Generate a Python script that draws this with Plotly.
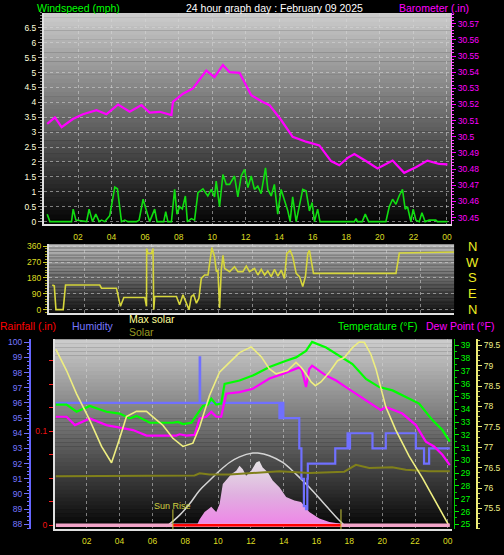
import plotly.graph_objects as go

W, H = 504, 555

# ---------------- data ----------------
title_text = "24 hour graph day : February 09 2025"
hour_ticks = [2, 4, 6, 8, 10, 12, 14, 16, 18, 20, 22, 24]
hour_labels = ["02", "04", "06", "08", "10", "12", "14", "16", "18", "20", "22", "00"]

# top panel: wind speed (mph)
wind_hours = [0.16, 0.32, 1.61, 1.71, 1.87, 2.51, 2.66, 2.86, 3.06, 3.26,
              3.40, 3.60, 3.89, 4.19, 4.35, 4.59, 4.79, 4.98, 5.48, 5.64,
              5.88, 6.08, 6.27, 6.57, 6.71, 7.11, 7.23, 7.36, 7.57, 7.76,
              7.90, 8.06, 8.22, 8.40, 8.52, 8.76, 8.95, 9.15, 9.45, 9.74,
              9.95, 10.14, 10.24, 10.44, 10.64, 10.84, 11.04, 11.33, 11.53, 11.73,
              11.93, 12.13, 12.33, 12.52, 12.72, 12.92, 13.18, 13.32, 13.52, 13.71,
              13.91, 14.11, 14.31, 14.51, 14.65, 14.80, 15.01, 15.20, 15.40, 15.60,
              15.80, 15.96, 16.10, 16.29, 16.43, 18.48, 18.58, 18.67, 18.95, 19.13,
              19.33, 20.36, 20.56, 20.76, 20.96, 21.15, 21.35, 21.51, 21.65, 21.85,
              21.99, 22.15, 22.35, 22.51, 22.70, 22.94, 23.34, 23.43, 24.03]
wind_mph = [0.25, 0, 0, 0.42, 0.05, 0, 0.42, 0, 0.25, 0,
            0.05, 0, 0.2, 1.16, 1.1, 0, 0.05, 0, 0, 0.05,
            0.75, 0.33, 0, 0.42, 0, 0, 0.33, 0, 0, 1.08,
            0.25, 0.5, 0.42, 0.86, 0, 0.1, 0.05, 0.97, 1.1, 0.86,
            1.08, 0.83, 1.36, 0.5, 1.58, 1.25, 1.25, 1.53, 0.83, 1.53,
            1.75, 1.14, 1.53, 1.08, 1.19, 0.94, 1.8, 1.08, 0.86, 1.25,
            0.25, 1.08, 0.75, 0.36, 0, 0.83, 0, 0.5, 1.08, 1.03,
            0.36, 0.64, 0, 0.42, 0, 0, 0.1, 0, 0, 0.25,
            0, 0, 0.5, 0.75, 0.58, 0.86, 1.08, 0.42, 0.5, 0,
            0.42, 0.05, 0, 0.3, 0, 0.05, 0.05, 0, 0]
wind_ticks = [0, 0.5, 1, 1.5, 2, 2.5, 3, 3.5, 4, 4.5, 5, 5.5, 6, 6.5]
wind_tick_labels = ["0", "0.5", "1", "1.5", "2", "2.5", "3", "3.5", "4", "4.5", "5", "5.5", "6", "6.5"]

# top panel: barometer (in)
baro_hours = [0.16, 0.62, 1.02, 1.69, 2.29, 3.10, 3.70, 4.39, 5.08, 5.78,
              6.27, 6.87, 7.57, 7.66, 8.26, 8.85, 9.65, 10.14, 10.64, 11.04,
              11.63, 12.33, 13.02, 13.42, 14.11, 14.80, 15.60, 16.39, 17.09, 17.58,
              18.08, 18.48, 19.17, 19.86, 20.76, 21.45, 22.15, 22.84, 23.54, 24.03]
baro_in = [30.508, 30.512, 30.506, 30.511, 30.514, 30.5165, 30.514, 30.520, 30.5155, 30.5196,
           30.515, 30.5155, 30.5135, 30.5216, 30.5267, 30.530, 30.541, 30.537, 30.5445, 30.540,
           30.5396, 30.5257, 30.5216, 30.5196, 30.5104, 30.500, 30.497, 30.4947, 30.485, 30.4824,
           30.487, 30.4894, 30.485, 30.4804, 30.4853, 30.4777, 30.4812, 30.4853, 30.4832, 30.4829]
baro_ticks = [30.45, 30.46, 30.47, 30.48, 30.49, 30.50, 30.51, 30.52, 30.53, 30.54, 30.55, 30.56, 30.57]
baro_tick_labels = ["30.45", "30.46", "30.47", "30.48", "30.49", "30.5", "30.51", "30.52",
                    "30.53", "30.54", "30.55", "30.56", "30.57"]

# middle panel: wind direction (degrees)
dir_hours = [0.08, 0.20, 0.30, 0.73, 0.87, 2.91, 3.01, 3.90, 4.14, 4.34,
             5.59, 5.69, 5.70, 5.78, 5.98, 6.08, 6.12, 6.18, 7.47, 7.66,
             7.86, 8.06, 8.22, 8.36, 8.50, 8.66, 8.81, 8.95, 9.15, 9.35,
             9.45, 9.58, 9.74, 9.85, 9.94, 10.04, 10.14, 10.24, 10.34, 10.64,
             10.93, 11.13, 11.43, 11.63, 11.82, 12.12, 12.32, 12.52, 12.72, 12.91,
             13.11, 13.31, 13.51, 13.71, 13.90, 14.04, 14.24, 14.40, 14.60, 14.80,
             14.99, 15.15, 15.29, 15.39, 15.49, 15.63, 20.54, 20.74, 24.0]
dir_deg = [140, 135, 0, 0, 140, 140, 122, 122, 19, 69,
           69, 19, 347, 319, 319, 347, 0, 75, 75, 28,
           84, 37, 0, 75, 84, 37, 65, 178, 197, 197,
           263, 353, 300, 216, 225, 9, 225, 309, 234, 216,
           244, 216, 216, 248, 216, 234, 197, 229, 197, 220,
           188, 229, 190, 225, 178, 319, 337, 300, 206, 188,
           131, 188, 319, 337, 281, 206, 206, 322, 328]
dir_ticks = [0, 90, 180, 270, 360]
compass_labels = ["N", "E", "S", "W", "N"]

# bottom panel
temp_hours = [0.12, 0.77, 1.38, 2.19, 3.20, 4.01, 4.62, 5.03, 5.84, 7.25,
              7.56, 7.86, 8.37, 8.77, 9.08, 9.38, 9.59, 9.89, 10.19, 10.40,
              11.31, 12.12, 13.13, 14.15, 14.75, 15.36, 15.73, 16.58, 17.59, 18.19,
              19.01, 19.82, 20.63, 21.64, 22.25, 23.06, 23.67, 24.12]
temp_f = [34.36, 34.36, 33.8, 34.26, 33.8, 33.66, 33.28, 33.48, 32.94, 32.94,
          33.0, 32.84, 32.94, 33.66, 34.26, 34.36, 34.82, 34.36, 34.44, 35.98,
          36.24, 36.63, 37.3, 37.79, 38.05, 38.56, 39.26, 38.82, 38.05, 37.53,
          36.37, 35.73, 35.47, 34.82, 34.44, 33.15, 32.37, 31.47]

dew_hours = [0.12, 0.77, 1.28, 2.19, 3.20, 4.21, 4.82, 5.64, 7.46, 7.66,
             8.07, 8.57, 8.88, 9.28, 9.59, 9.89, 10.19, 10.50, 11.31, 12.12,
             13.13, 13.94, 14.95, 15.12, 15.36, 15.56, 15.73, 16.58, 17.19, 17.79,
             18.40, 19.21, 19.92, 20.22, 21.23, 22.05, 22.66, 23.16, 23.67, 24.12]
dew_f = [33.41, 33.41, 32.76, 33.28, 32.76, 32.5, 32.37, 31.94, 31.94, 32.04,
         31.94, 31.99, 33.28, 33.41, 33.79, 33.41, 33.41, 35.21, 35.34, 35.6,
         36.4, 36.76, 37.27, 37.01, 35.73, 37.14, 37.4, 36.63, 36.24, 35.73,
         35.21, 34.57, 33.92, 34.18, 33.66, 32.76, 31.47, 31.09, 30.44, 29.62]

hum_hours = [0.12, 8.88, 8.91, 13.74, 13.80, 13.86, 13.92, 13.98, 14.95, 15.08,
             15.23, 15.36, 15.44, 15.47, 17.14, 17.89, 17.93, 17.97, 18.01, 18.04,
             19.41, 20.22, 22.05, 22.55, 22.86, 24.12]
hum_pct = [96, 99, 96, 95, 96, 95, 96, 95, 93, 91,
           89.2, 89.0, 91, 92, 93, 94, 93, 94, 93, 94,
           93, 94, 93, 92, 93, 93]

maxsol_hours = [0.12, 0.77, 1.38, 2.19, 2.90, 3.51, 3.91, 4.42, 5.03, 5.64,
                6.14, 6.64, 7.25, 7.86, 8.47, 8.88, 9.48, 10.09, 10.70, 11.31,
                12.02, 12.63, 13.13, 13.54, 14.24, 14.75, 15.06, 15.36, 15.67, 15.93,
                16.27, 16.78, 17.28, 17.69, 18.19, 18.60, 18.91, 19.31, 19.62, 20.22,
                20.83, 21.64, 22.45, 23.26, 24.07]
maxsol_val = [79.40, 78.88, 78.31, 77.66, 77.02, 76.62, 77.10, 77.75, 77.88, 77.88,
              77.71, 77.54, 77.22, 77.02, 77.10, 77.50, 78.27, 78.84, 79.08, 79.32,
              79.46, 79.22, 78.92, 78.80, 78.88, 79.08, 78.96, 78.80, 78.60, 78.51,
              78.60, 78.84, 79.12, 79.20, 79.44, 79.58, 79.57, 79.28, 78.92, 77.99,
              77.42, 76.78, 76.25, 75.65, 75.08]

olive_hours = [0.12, 5.84, 8.57, 8.88, 9.48, 10.70, 13.74, 15.56, 17.69, 18.40,
               19.21, 20.61, 21.44, 22.86, 24.12]
olive_val = [76.29, 76.30, 76.31, 76.36, 76.33, 76.33, 76.41, 76.37, 76.40, 76.57,
             76.49, 76.51, 76.45, 76.41, 76.41]

solar_hours = [0.12, 8.67, 8.88, 9.18, 9.59, 9.89, 10.09, 10.29, 10.80, 11.11,
               11.31, 11.51, 11.71, 12.02, 12.32, 12.52, 12.72, 13.03, 13.33, 13.74,
               14.15, 14.65, 15.06, 15.56, 16.17, 16.78, 17.39, 17.79, 24.12]
solar_wm2 = [0, 0, 20, 39, 53, 39, 60, 114, 140, 149,
             162, 153, 136, 149, 171, 175, 158, 145, 123, 105,
             79, 70, 66, 39, 22, 13, 9, 0, 0]

arc_hours = [6.85, 7.66, 8.27, 8.88, 9.48, 10.09, 10.70, 11.31, 12.12, 12.42,
             13.13, 13.94, 14.75, 15.56, 16.37, 17.19, 17.69]
arc_wm2 = [0, 31, 61, 97, 123, 149, 171, 186, 196, 196,
           189, 171, 140, 105, 66, 26, 4]

rain_hours = [0.12, 24.12]
rain_in = [0, 0]
sunrise_h = 7.25
sunset_h = 17.49

temp_ticks = list(range(25, 40))
hum_ticks = list(range(88, 101))
right_ticks = [75.5, 76, 76.5, 77, 77.5, 78, 78.5, 79, 79.5]
right_tick_labels = ["75.5", "76", "76.5", "77", "77.5", "78", "78.5", "79", "79.5"]
rain_ticks = [0, 0.025, 0.05, 0.075, 0.1, 0.125, 0.15, 0.175]
rain_tick_labels = ["0", "", "", "", "0.1", "", "", ""]

# ---------------- helpers ----------------
def fx(px):
    return px / W

def fy(py):
    return 1 - py / H

FONT = "Liberation Sans, Arial, sans-serif"
GRID = "rgba(215,215,215,0.55)"
EDGE = "#e0e0e0"

fig = go.Figure()

# top panel
fig.add_trace(go.Scatter(x=wind_hours, y=wind_mph, mode="lines", name="Windspeed",
                         line=dict(color="#11dd11", width=1.6), xaxis="x", yaxis="y"))
fig.add_trace(go.Scatter(x=baro_hours, y=baro_in, mode="lines", name="Barometer",
                         line=dict(color="#ff00ff", width=2.2), xaxis="x", yaxis="y2"))
# middle panel
fig.add_trace(go.Scatter(x=dir_hours, y=dir_deg, mode="lines", name="Direction",
                         line=dict(color="#d6d63c", width=1.6), xaxis="x2", yaxis="y3"))
# bottom panel (y4 = hidden solar base axis)
fig.add_trace(go.Scatter(x=solar_hours, y=solar_wm2, mode="lines", name="Solar radiation",
                         line=dict(width=0, color="rgba(0,0,0,0)"), fill="tozeroy",
                         fillgradient=dict(type="vertical", start=0, stop=180,
                                           colorscale=[[0, "#f080e8"], [0.5, "#e0b0e0"], [1, "#e4e4e4"]]),
                         xaxis="x3", yaxis="y4"))
fig.add_trace(go.Scatter(x=arc_hours, y=arc_wm2, mode="lines", name="Max solar curve",
                         line=dict(color="#d4d4d4", width=1.5, shape="spline"), xaxis="x3", yaxis="y4"))
fig.add_trace(go.Scatter(x=hum_hours, y=hum_pct, mode="lines", name="Humidity",
                         line=dict(color="#7070ff", width=2.2, shape="hv"), xaxis="x3", yaxis="y6"))
fig.add_trace(go.Scatter(x=olive_hours, y=olive_val, mode="lines", name="Solar",
                         line=dict(color="#80801a", width=2), xaxis="x3", yaxis="y8"))
fig.add_trace(go.Scatter(x=maxsol_hours, y=maxsol_val, mode="lines", name="Max solar",
                         line=dict(color="#eeee80", width=1.6), xaxis="x3", yaxis="y8"))
fig.add_trace(go.Scatter(x=dew_hours, y=dew_f, mode="lines", name="Dew Point",
                         line=dict(color="#ff00ff", width=2.2), xaxis="x3", yaxis="y7"))
fig.add_trace(go.Scatter(x=temp_hours, y=temp_f, mode="lines", name="Temperature",
                         line=dict(color="#00ff00", width=2.2), xaxis="x3", yaxis="y7"))
fig.add_trace(go.Scatter(x=rain_hours, y=rain_in, mode="lines", name="Rainfall",
                         line=dict(color="#f2a4c8", width=3.5), xaxis="x3", yaxis="y9"))
fig.add_trace(go.Scatter(x=[sunrise_h, sunset_h], y=[0, 0], mode="lines", name="Rainfall day",
                         line=dict(color="#ff0000", width=2.5), xaxis="x3", yaxis="y9"))

# ---------------- background gradients ----------------
shapes = []
def gradient(xref, yref, top, bottom, n=48):
    for i in range(n):
        t = (i + 0.5) / n
        g = int(round(top + (bottom - top) * t))
        shapes.append(dict(type="rect", xref=xref, yref=yref, x0=0, x1=1,
                           y0=max(0, 1 - (i + 1) / n - 0.002), y1=1 - i / n,
                           fillcolor=f"rgb({g},{g},{g})", line=dict(width=0), layer="below"))

gradient("x domain", "y domain", 205, 4)
gradient("x2 domain", "y3 domain", 190, 18)
gradient("x3 domain", "y4 domain", 205, 4)

for h in (sunrise_h, sunset_h):
    shapes.append(dict(type="line", xref="x3", yref="y4 domain", x0=h, x1=h, y0=0, y1=0.105,
                       line=dict(color="#c8c83a", width=1)))

# ---------------- annotations ----------------
ann = []
def label(text, x, y, color, size=10.5, xanchor="left", xref="paper", yref="paper"):
    ann.append(dict(text=text, x=x, y=y, xref=xref, yref=yref, xanchor=xanchor, yanchor="middle",
                    showarrow=False, font=dict(family=FONT, size=size, color=color), borderpad=0))

label("Windspeed (mph)", fx(36), fy(5.5), "#00ff00")
label(title_text, fx(275.5), fy(5.5), "#ffffff", xanchor="center")
label("Barometer (.in)", fx(399), fy(5.5), "#ff00ff")
label("Rainfall (.in)", fx(-1), fy(326.5), "#ff0000")
label("Humidity", fx(71), fy(326.5), "#7777ff")
label("Max solar", fx(128.5), fy(319), "#ffff99")
label("Solar", fx(128.5), fy(332.5), "#9a9a22")
label("Temperature (°F)", fx(337.5), fy(326.5), "#00ff00")
label("Dew Point (°F)", fx(425.5), fy(326.5), "#ff00ff")
for v, t in zip(dir_ticks, compass_labels):
    label(t, fx(473.5), v, "#eeee22", size=13, xanchor="center", yref="y3")
label("Sun Rise", sunrise_h, fy(508), "#d0d040", size=9, xanchor="center", xref="x3")

tickfont = dict(family=FONT, size=8.5)

def xaxis_common(domain, rng, labels, label_len):
    return dict(domain=domain, range=rng, tickmode="array", tickvals=hour_ticks,
                ticktext=hour_labels if labels else None, showticklabels=labels,
                ticks="outside" if labels else "", ticklen=label_len, tickcolor="rgba(0,0,0,0)",
                tickfont=dict(family=FONT, size=8.5, color="#dddd22"),
                showgrid=True, gridcolor=GRID, griddash="dot", gridwidth=1,
                showline=True, linecolor=EDGE, linewidth=2, zeroline=False, fixedrange=True)

fig.update_layout(
    width=W, height=H, margin=dict(l=0, r=0, t=0, b=0),
    paper_bgcolor="black", plot_bgcolor="black", showlegend=False,
    font=dict(family=FONT),
    xaxis=xaxis_common([fx(44), fx(452)], [-0.036, 24.25], True, 4),
    xaxis2=dict(xaxis_common([fx(49), fx(455)], [-0.12, 24.0], False, 0), anchor="y3"),
    xaxis3=dict(xaxis_common([fx(55), fx(453)], [0.06, 24.26], True, 3), anchor="y4"),
    yaxis=dict(domain=[fy(223), fy(10)], range=[-0.066, 7.0], anchor="x",
               tickmode="array", tickvals=wind_ticks, ticktext=wind_tick_labels,
               ticks="outside", ticklen=4, tickcolor="#aaaaaa",
               minor=dict(ticks="outside", ticklen=2, dtick=0.1, tick0=0, tickcolor="#888888"),
               tickfont=dict(tickfont, color="#ffffdd"),
               showgrid=True, gridcolor=GRID, griddash="dot",
               showline=True, linecolor=EDGE, linewidth=2, zeroline=False, fixedrange=True),
    yaxis2=dict(overlaying="y", side="right", anchor="x", range=[30.4463, 30.5767],
                tickmode="array", tickvals=baro_ticks, ticktext=baro_tick_labels,
                ticks="outside", ticklen=4, tickcolor="#ff00ff",
                minor=dict(ticks="outside", ticklen=2, dtick=0.002, tick0=30.45, tickcolor="#ff44ff"),
                tickfont=dict(tickfont, color="#ff00ff"),
                showgrid=False, showline=True, linecolor="#ff77ff", linewidth=1,
                zeroline=False, fixedrange=True),
    yaxis3=dict(domain=[fy(313), fy(244)], range=[-16.9, 371.25], anchor="x2",
                tickmode="array", tickvals=dir_ticks,
                ticks="outside", ticklen=4, tickcolor="#cccc22",
                minor=dict(ticks="outside", ticklen=2, dtick=15, tick0=0, tickcolor="#aaaa22"),
                tickfont=dict(tickfont, color="#dddd22"),
                showgrid=True, gridcolor=GRID, griddash="dot",
                showline=True, linecolor=EDGE, linewidth=2, zeroline=False, fixedrange=True),
    yaxis4=dict(domain=[fy(532), fy(340)], range=[-6.6, 498.7], anchor="x3",
                visible=False, fixedrange=True),
    yaxis5=dict(overlaying="y4", anchor="x3", range=[-0.0042, 0.1979], dtick=0.02, tick0=0,
                showticklabels=False, ticks="", showgrid=True, gridcolor=GRID, griddash="dot",
                showline=False, zeroline=False, fixedrange=True),
    yaxis6=dict(overlaying="y4", anchor="free", position=fx(30), side="left",
                range=[87.67, 100.196], tickmode="array", tickvals=hum_ticks,
                ticks="outside", ticklen=5, tickcolor="#6f6fff",
                minor=dict(ticks="outside", ticklen=2, dtick=0.25, tick0=88, tickcolor="#6f6fff"),
                tickfont=dict(tickfont, color="#7777ff"),
                showgrid=False, showline=True, linecolor="#6666ff", linewidth=2,
                zeroline=False, fixedrange=True),
    yaxis7=dict(overlaying="y4", anchor="free", position=fx(455), side="right",
                range=[24.615, 39.464], tickmode="array", tickvals=temp_ticks,
                ticks="outside", ticklen=4, tickcolor="#00ee00",
                minor=dict(ticks="outside", ticklen=2, dtick=0.5, tick0=25, tickcolor="#00cc00"),
                tickfont=dict(tickfont, color="#00ff00"),
                showgrid=False, showline=True, linecolor="#00cc00", linewidth=1,
                zeroline=False, fixedrange=True),
    yaxis8=dict(overlaying="y4", anchor="free", position=fx(478), side="right",
                range=[74.99, 79.645], tickmode="array", tickvals=right_ticks, ticktext=right_tick_labels,
                ticks="outside", ticklen=4, tickcolor="#eeee77",
                minor=dict(ticks="outside", ticklen=2, dtick=0.125, tick0=75, tickcolor="#cccc66"),
                tickfont=dict(tickfont, color="#eeee88"),
                showgrid=False, showline=True, linecolor="#eeee77", linewidth=2,
                zeroline=False, fixedrange=True),
    yaxis9=dict(overlaying="y4", anchor="x3", side="left", range=[-0.0042, 0.1979],
                tickmode="array", tickvals=rain_ticks, ticktext=rain_tick_labels,
                ticks="outside", ticklen=4, tickcolor="#ff2222",
                tickfont=dict(tickfont, color="#ee1111"),
                showgrid=False, showline=True, linecolor=EDGE, linewidth=2,
                zeroline=False, fixedrange=True),
    shapes=shapes,
    annotations=ann,
)

fig.write_html("out.html", config={"displayModeBar": False},
               post_script="document.body.style.margin='0';document.body.style.padding='0';"
                           "document.documentElement.style.overflow='hidden';")
